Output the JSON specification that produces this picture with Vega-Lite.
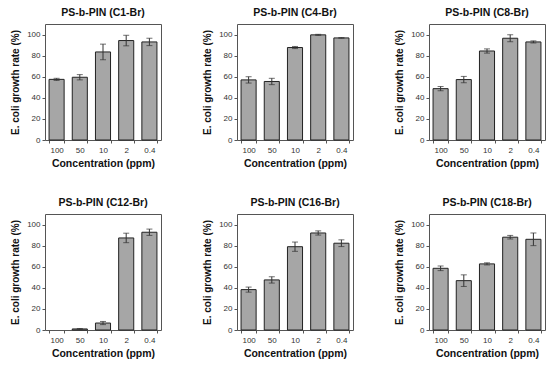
{
  "$schema": "https://vega.github.io/schema/vega-lite/v6.json",
  "padding": {"left": 10, "top": 7, "right": 5, "bottom": 5},
  "background": "white",
  "config": {
    "font": "Liberation Sans",
    "view": {"stroke": "#555555", "strokeWidth": 1},
    "axis": {"grid": false, "domain": false, "tickColor": "#555555", "tickSize": 3, "labelColor": "#333333", "labelFontSize": 8, "labelFont": "Liberation Sans", "titleFont": "Liberation Sans", "titleFontWeight": "bold", "titleColor": "#111111"}
  },
  "data": {"values": [
    {"polymer": "PS-b-PIN (C1-Br)", "conc": "100", "rate": 57.5, "err": 1},
    {"polymer": "PS-b-PIN (C1-Br)", "conc": "50", "rate": 59.5, "err": 2.5},
    {"polymer": "PS-b-PIN (C1-Br)", "conc": "10", "rate": 83.5, "err": 7.4},
    {"polymer": "PS-b-PIN (C1-Br)", "conc": "2", "rate": 94.3, "err": 5},
    {"polymer": "PS-b-PIN (C1-Br)", "conc": "0.4", "rate": 93, "err": 3.5},
    {"polymer": "PS-b-PIN (C4-Br)", "conc": "100", "rate": 57, "err": 3},
    {"polymer": "PS-b-PIN (C4-Br)", "conc": "50", "rate": 55.5, "err": 3},
    {"polymer": "PS-b-PIN (C4-Br)", "conc": "10", "rate": 87.7, "err": 1},
    {"polymer": "PS-b-PIN (C4-Br)", "conc": "2", "rate": 99.7, "err": 0.5},
    {"polymer": "PS-b-PIN (C4-Br)", "conc": "0.4", "rate": 96.8, "err": 0.3},
    {"polymer": "PS-b-PIN (C8-Br)", "conc": "100", "rate": 48.7, "err": 2},
    {"polymer": "PS-b-PIN (C8-Br)", "conc": "50", "rate": 57.3, "err": 3},
    {"polymer": "PS-b-PIN (C8-Br)", "conc": "10", "rate": 84.4, "err": 2},
    {"polymer": "PS-b-PIN (C8-Br)", "conc": "2", "rate": 96.5, "err": 3.3},
    {"polymer": "PS-b-PIN (C8-Br)", "conc": "0.4", "rate": 93, "err": 1},
    {"polymer": "PS-b-PIN (C12-Br)", "conc": "100", "rate": 0, "err": 0},
    {"polymer": "PS-b-PIN (C12-Br)", "conc": "50", "rate": 1, "err": 0.4},
    {"polymer": "PS-b-PIN (C12-Br)", "conc": "10", "rate": 6.6, "err": 1.5},
    {"polymer": "PS-b-PIN (C12-Br)", "conc": "2", "rate": 87.3, "err": 4.5},
    {"polymer": "PS-b-PIN (C12-Br)", "conc": "0.4", "rate": 92.7, "err": 3},
    {"polymer": "PS-b-PIN (C16-Br)", "conc": "100", "rate": 38.3, "err": 2.4},
    {"polymer": "PS-b-PIN (C16-Br)", "conc": "50", "rate": 47.5, "err": 3},
    {"polymer": "PS-b-PIN (C16-Br)", "conc": "10", "rate": 79, "err": 4.4},
    {"polymer": "PS-b-PIN (C16-Br)", "conc": "2", "rate": 92, "err": 2},
    {"polymer": "PS-b-PIN (C16-Br)", "conc": "0.4", "rate": 82.3, "err": 3.2},
    {"polymer": "PS-b-PIN (C18-Br)", "conc": "100", "rate": 58.5, "err": 2.2},
    {"polymer": "PS-b-PIN (C18-Br)", "conc": "50", "rate": 46.8, "err": 5.5},
    {"polymer": "PS-b-PIN (C18-Br)", "conc": "10", "rate": 62.7, "err": 1},
    {"polymer": "PS-b-PIN (C18-Br)", "conc": "2", "rate": 88, "err": 1.7},
    {"polymer": "PS-b-PIN (C18-Br)", "conc": "0.4", "rate": 86, "err": 6}
  ]},
  "facet": {
    "field": "polymer", "type": "nominal",
    "sort": ["PS-b-PIN (C1-Br)", "PS-b-PIN (C4-Br)", "PS-b-PIN (C8-Br)", "PS-b-PIN (C12-Br)", "PS-b-PIN (C16-Br)", "PS-b-PIN (C18-Br)"],
    "header": {"title": null, "labelFont": "Liberation Sans", "labelFontWeight": "bold", "labelFontSize": 10.5, "labelColor": "#111111", "labelPadding": 6}
  },
  "columns": 3,
  "spacing": {"column": 40, "row": 28},
  "resolve": {"axis": {"x": "independent", "y": "independent"}},
  "spec": {
    "width": 116,
    "height": 116,
    "encoding": {
      "x": {"field": "conc", "type": "nominal", "sort": ["100", "50", "10", "2", "0.4"],
        "scale": {"paddingInner": 0.35, "paddingOuter": 0.175},
        "axis": {"title": "Concentration (ppm)", "labelAngle": 0, "titleFontSize": 10.5, "labelPadding": 3, "titlePadding": 4, "tickBand": "extent"}},
      "y": {"field": "rate", "type": "quantitative", "scale": {"domain": [0, 110], "nice": false},
        "axis": {"title": "E. coli growth rate (%)", "values": [0, 20, 40, 60, 80, 100], "titleFontSize": 10, "labelPadding": 2, "titlePadding": 6, "labelOverlap": false}}
    },
    "layer": [
      {
        "mark": {"type": "bar", "fill": "#a6a6a6", "stroke": "#222222", "strokeWidth": 1},
        "encoding": {
          "strokeOpacity": {"condition": {"test": "datum.rate > 0", "value": 1}, "value": 0}
        }
      },
      {
        "transform": [{"filter": "datum.err > 0"}],
        "mark": {"type": "errorbar", "ticks": {"size": 6, "color": "#333333"}, "color": "#333333"},
        "encoding": {
          "yError": {"field": "err"}
        }
      }
    ]
  }
}
